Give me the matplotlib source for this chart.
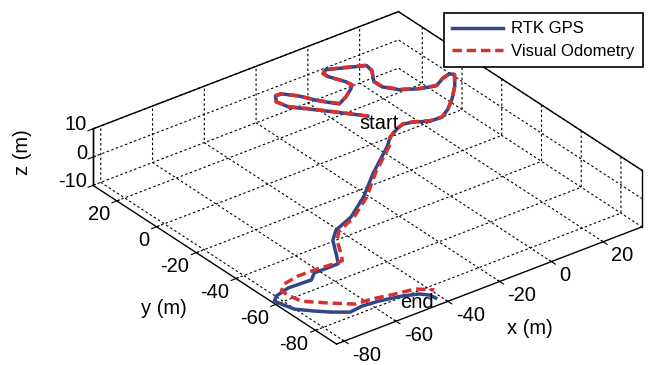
import matplotlib
matplotlib.use("Agg")
import matplotlib.pyplot as plt
from mpl_toolkits.mplot3d import proj3d

plt.rcParams['font.family'] = 'Liberation Sans'
plt.rcParams['font.size'] = 14.5
plt.rcParams['axes.unicode_minus'] = False

# RTK GPS track (m)
gps_x = [-0.9, -7.1, -12.6, -16.7, -17.8, -15.8, -13.6, -10.2, -7.1, -3.3,
         1.0, 5.2, 6.9, 6.6, 4.3, 4.2, 6.1, 9.0, 14.6, 17.7,
         17.0, 13.4, 13.5, 16.6, 21.9, 27.1, 31.2, 34.8, 35.6, 31.6,
         26.0, 21.3, 16.8, 12.4, 7.9, 4.7, 1.3, -3.4, -6.9, -19.0,
         -28.9, -37.9, -45.4, -48.9, -52.0, -54.7, -58.1, -62.9, -65.7, -73.8,
         -79.7, -82.1, -81.5, -80.2, -76.0, -72.2, -67.8, -62.6, -56.6, -49.1,
         -44.2, -42.1, -41.7]
gps_y = [0.7, 8.5, 15.1, 19.8, 24.6, 27.7, 27.6, 23.4, 17.2, 11.9,
         14.1, 17.1, 18.8, 21.5, 27.1, 29.5, 31.1, 29.7, 27.0, 25.4,
         22.0, 16.2, 12.2, 7.6, 4.3, 2.6, 4.9, 6.0, 4.6, -0.8,
         -6.7, -10.8, -13.7, -13.4, -10.7, -9.8, -11.1, -13.8, -17.0, -25.8,
         -33.7, -39.1, -41.3, -44.3, -50.0, -54.6, -54.0, -53.2, -55.4, -54.3,
         -56.0, -58.1, -60.9, -65.8, -70.5, -74.2, -77.6, -76.9, -77.6, -79.5,
         -81.7, -84.1, -86.7]
gps_z = [0, 0, 0, 0, 0, 0, 0, 0, 0, 0,
         0, 0, 0, 0, 0, 0, 0, 0, 0, 0,
         0, 0, 0, 0, 0, 0, 0, 0, 0, 0,
         0, 0, 0, 0, 0, 0, 0, 0, -0.5, -1.5,
         -3, -4.5, -5.5, -6.5, -7.5, -8, -8.5, -9, -9.5, -10,
         -10, -10, -10, -10, -10, -10, -10, -10, -10, -10,
         -10, -10, -10]

# visual odometry track (m)
vo_x = [-0.9, -7.0, -12.4, -16.5, -17.9, -16.0, -13.8, -10.3, -7.0, -3.1,
        1.2, 5.3, 7.0, 6.5, 4.1, 4.0, 6.0, 9.1, 14.8, 17.9,
        17.2, 13.6, 13.7, 16.8, 22.0, 27.3, 31.4, 35.0, 35.8, 31.8,
        26.2, 21.5, 17.0, 12.5, 8.0, 4.8, 1.4, -3.2, -6.4, -18.5,
        -28.1, -37.2, -45.1, -47.9, -51.1, -52.6, -55.1, -60.4, -67.4, -73.3,
        -76.6, -76.5, -75.5, -69.6, -63.6, -57.6, -50.1, -43.3, -39.0]
vo_y = [0.7, 8.6, 15.3, 20.0, 24.8, 27.9, 27.8, 23.6, 17.4, 12.1,
        14.3, 17.3, 19.0, 21.6, 27.3, 29.7, 31.3, 29.9, 27.2, 25.6,
        22.2, 16.4, 12.4, 7.8, 4.5, 2.8, 5.1, 6.2, 4.8, -0.6,
        -6.5, -10.6, -13.5, -13.2, -10.5, -9.6, -10.9, -13.6, -17.3, -26.2,
        -34.3, -39.7, -42.4, -45.1, -51.4, -53.9, -53.2, -51.9, -51.0, -51.6,
        -54.5, -58.4, -63.2, -69.2, -74.6, -75.3, -77.2, -78.5, -82.5]
vo_z = [0, 0, 0, 0, 0, 0, 0, 0, 0, 0,
        0, 0, 0, 0, 0, 0, 0, 0, 0, 0,
        0, 0, 0, 0, 0, 0, 0, 0, 0, 0,
        0, 0, 0, 0, 0, 0, 0, 0, -0.5, -1.5,
        -3, -4.5, -5.5, -6.5, -7.5, -8, -8.5, -9, -9.5, -10,
        -10, -10, -10, -10, -10, -10, -10, -10, -10]

xlim = (-83, 35)
ylim = (-90.6, 32)
zlim = (-10, 10)
xticks = [-80, -60, -40, -20, 0, 20]
yticks = [-80, -60, -40, -20, 0, 20]
zticks = [-10, 0, 10]

W, H = 649, 365
fig = plt.figure(figsize=(W / 100, H / 100), dpi=100)
side = 610.0
cx, cy = 367.0 / W, 1 - 177.5 / H
w, h = side / W, side / H
ax = fig.add_axes([cx - w / 2, cy - h / 2, w, h], projection='3d', proj_type='ortho')
ax.view_init(elev=30, azim=-127.5)
aspect = (xlim[1] - xlim[0], ylim[1] - ylim[0], zlim[1] - zlim[0])
ax.set_box_aspect(aspect, zoom=1.0)

for axis in (ax.xaxis, ax.yaxis, ax.zaxis):
    axis.set_pane_color((1, 1, 1, 0))
    axis._axinfo['grid'].update(color='k', linestyle=(0, (2.2, 2.2)), linewidth=0.8)
    axis.line.set_color('k')
    axis.line.set_linewidth(1.0)
    axis.label.set_visible(False)
    axis.offsetText.set_visible(False)

l1, = ax.plot(gps_x, gps_y, gps_z, color='#31478a', lw=2.5, label='RTK GPS')
l2, = ax.plot(vo_x, vo_y, vo_z, color='#d8302c', lw=2.5, ls=(0, (2.7, 1.4)),
              label='Visual Odometry')

ax.text(-5.5, -1.2, 0, 'start', ha='left', va='center', fontsize=14.5)
ax.text(-51.8, -82.1, -10, 'end', ha='left', va='center', fontsize=14.5)

# box edges at the back (matlab style)
x0, x1 = xlim
y0, y1 = ylim
z0, z1 = zlim
ax.plot([x0, x1], [y1, y1], [z1, z1], color='k', lw=1)
ax.plot([x1, x1], [y1, y0], [z1, z1], color='k', lw=1)
ax.plot([x0, x0], [y1, y1], [z0, z1], color='k', lw=1)
ax.plot([x1, x1], [y0, y0], [z0, z1], color='k', lw=1)

ax.set_xlim(xlim)
ax.set_ylim(ylim)
ax.set_zlim(zlim)
ax.set_xticks(xticks)
ax.set_yticks(yticks)
ax.set_zticks(zticks)
ax.set_xticklabels([])
ax.set_yticklabels([])
ax.set_zticklabels([])

# axis labels drawn flat like matlab does
fig.text(530 / W, 1 - 329 / H, 'x (m)', ha='center', va='center')
fig.text(164 / W, 1 - 308 / H, 'y (m)', ha='center', va='center')
fig.text(22 / W, 1 - 152 / H, 'z (m)', ha='center', va='center', rotation=90)

leg = ax.legend(handles=[l1, l2], loc='upper right', bbox_to_anchor=(0.991, 0.964),
                bbox_transform=fig.transFigure, fontsize=12, fancybox=False,
                edgecolor='k', framealpha=1, handlelength=3.05, handletextpad=0.5,
                borderpad=0.5, labelspacing=0.45, borderaxespad=0)
leg.get_frame().set_linewidth(1.2)


def corner_px(x, y, z):
    xs, ys, _ = proj3d.proj_transform(x, y, z, ax.get_proj())
    px, py = ax.transData.transform((xs, ys))
    return px, H - py


# fit the box to where it sits in the original figure
fig.canvas.draw()
L = corner_px(x0, y1, z0)
R = corner_px(x1, y0, z0)
ax.set_box_aspect(aspect, zoom=549.0 / (R[0] - L[0]))
fig.canvas.draw()
F = corner_px(x0, y0, z0)
B = corner_px(x1, y1, z1)
dx = 367.5 - (F[0] + B[0]) / 2
dy = 177.85 - (F[1] + B[1]) / 2
pos = ax.get_position(original=True)
ax.set_position([pos.x0 + dx / W, pos.y0 - dy / H, pos.width, pos.height])
fig.canvas.draw()

# tick labels placed next to the tick points
for t in xticks:
    px, py = corner_px(t, y0, z0)
    fig.text((px + 8) / W, 1 - (py + 14) / H, str(t), ha='left', va='center')
for t in yticks:
    px, py = corner_px(x0, t, z0)
    fig.text((px - 7) / W, 1 - (py + 14) / H, str(t), ha='right', va='center')
for t in zticks:
    px, py = corner_px(x0, y1, t)
    fig.text((px - 6) / W, 1 - (py - 4) / H, str(t), ha='right', va='center')

fig.savefig('out.png', dpi=100)
